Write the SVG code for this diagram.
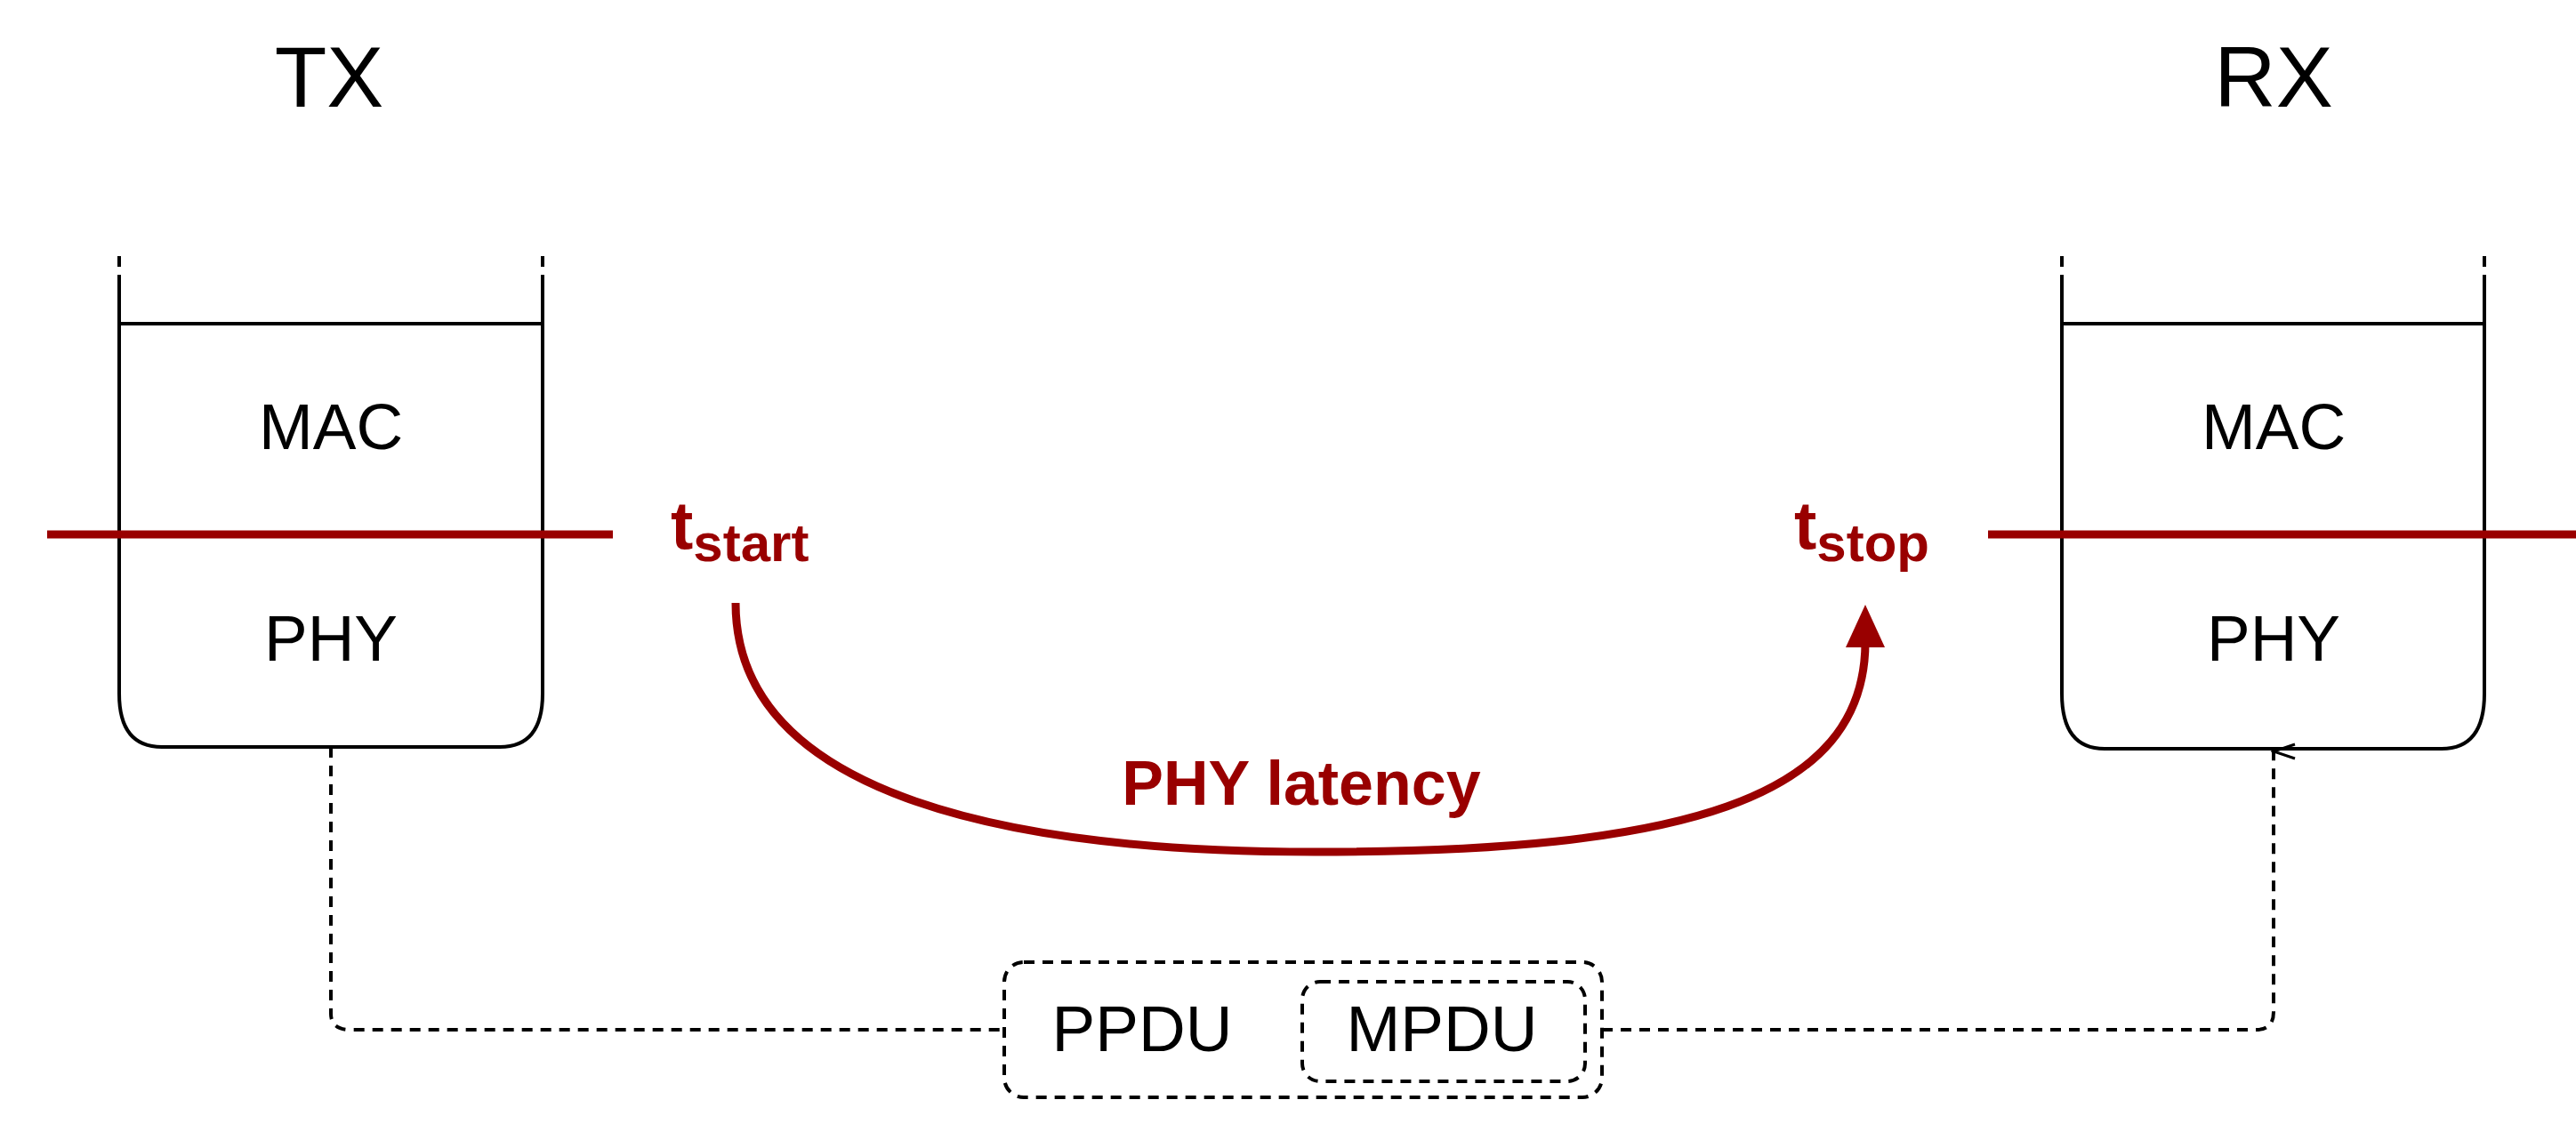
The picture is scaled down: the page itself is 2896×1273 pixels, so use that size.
<svg xmlns="http://www.w3.org/2000/svg" width="2896" height="1273" viewBox="0 0 2896 1273">
<style>
text{font-family:"Liberation Sans",Arial,sans-serif;text-anchor:middle}
text.st{text-anchor:start}
.blk{fill:none;stroke:#000;stroke-width:4}
.dash{fill:none;stroke:#000;stroke-width:4;stroke-dasharray:12 9}
.red{fill:none;stroke:#990000;stroke-width:9}
.rt{fill:#990000;font-weight:bold}
</style>
<defs>
<marker id="open" markerWidth="30" markerHeight="30" refX="15" refY="3" orient="auto" markerUnits="userSpaceOnUse"><path d="M7,27 L15,3 L23,27" fill="none" stroke="#000" stroke-width="3"/></marker>
</defs>
<text x="370" y="120" font-size="96">TX</text>
<text x="2556" y="120" font-size="96">RX</text>
<g id="tx">
<path class="dash" d="M134,288 V312 M610,288 V312"/>
<path class="blk" d="M134,312 V780 Q134,840 182,840 H562 Q610,840 610,780 V312 M134,364 H610"/>
<text x="372" y="505" font-size="73">MAC</text>
<text x="372" y="743" font-size="73">PHY</text>
</g>
<g id="rx">
<path class="dash" d="M2318,288 V312 M2793,288 V312"/>
<path class="blk" d="M2318,312 V780 Q2318,842 2366,842 H2745 Q2793,842 2793,780 V312 M2318,364 H2793"/>
<text x="2556" y="505" font-size="73">MAC</text>
<text x="2556" y="743" font-size="73">PHY</text>
</g>
<g id="ppdu">
<rect class="dash" x="1129" y="1082" width="672" height="152" rx="22"/>
<text x="1284" y="1182" font-size="73">PPDU</text>
</g>
<g id="mpdu">
<rect class="dash" x="1464" y="1104" width="318" height="112" rx="20"/>
<text x="1621" y="1182" font-size="73">MPDU</text>
</g>
<g id="markers">
<line class="red" x1="53" y1="601" x2="689" y2="601"/>
<line class="red" x1="2235" y1="601" x2="2896" y2="601"/>
<text class="rt st" x="754" y="617" font-size="76">t<tspan font-size="60" dy="14">start</tspan></text>
<text class="rt st" x="2017" y="617" font-size="76">t<tspan font-size="60" dy="14">stop</tspan></text>
</g>
<g id="connectors">
<path class="red" d="M827,678 C827,900 1150,958 1478,958 C1890,958 2097,900 2097,722"/>
<path d="M2075,728 L2097,680 L2119,728 Z" fill="#990000"/>
<text class="rt" x="1463" y="905" font-size="70">PHY latency</text>
<path class="dash" d="M372,840 V1140 Q372,1158 394,1158 H1129"/>
<path class="dash" d="M1801,1158 H2536 Q2556,1158 2556,1138 V845" marker-end="url(#open)"/>
</g>
</svg>
